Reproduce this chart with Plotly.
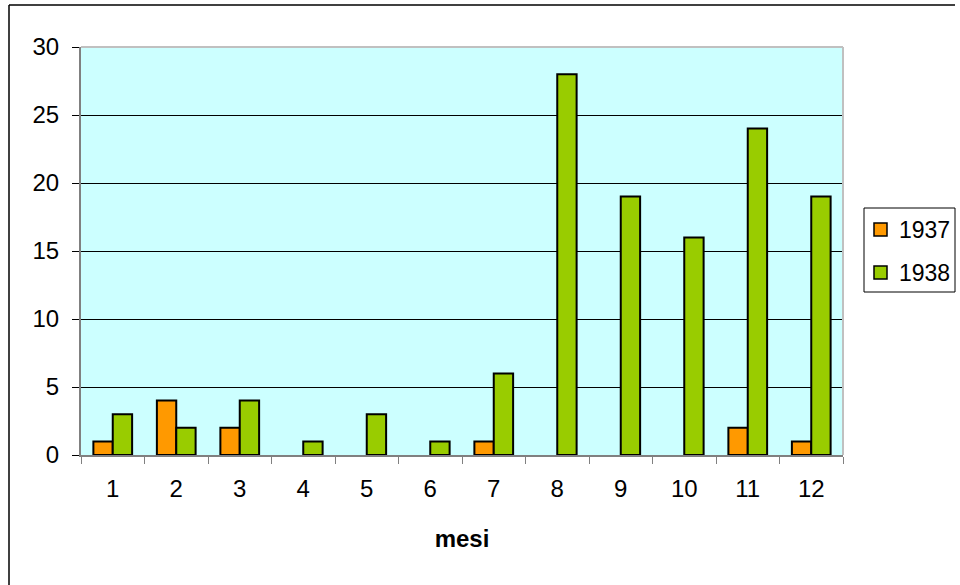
import plotly.graph_objects as go

# Monthly counts for the two years
mesi = [str(m) for m in range(1, 13)]
serie_1937 = [1, 4, 2, 0, 0, 0, 1, 0, 0, 0, 2, 1]
serie_1938 = [3, 2, 4, 1, 3, 1, 6, 28, 19, 16, 24, 19]
y_ticks = [0, 5, 10, 15, 20, 25, 30]

series = [
    ("1937", serie_1937, "#FF9900"),
    ("1938", serie_1938, "#99CC00"),
]

FONT = "Liberation Sans, Arial, sans-serif"
FS = 24

# plot area in pixels
L, R, T, B = 81, 843, 47, 455
W, H = 960, 585


def px(x):
    return (x - L) / (R - L)


def py(y):
    return (B - y) / (B - T)


def outline(values):
    # no outline on empty bars
    return [2 if v else 0 for v in values]


fig = go.Figure()
for name, vals, col in series:
    fig.add_trace(go.Bar(
        x=mesi, y=vals, name=name, showlegend=False,
        marker=dict(color=col, line=dict(color="black", width=outline(vals))),
    ))

shapes = [
    # plot area border (top / right)
    dict(type="line", xref="paper", yref="paper", x0=0, x1=1, y0=1, y1=1,
         line=dict(color="#C0C0C0", width=2), layer="above"),
    dict(type="line", xref="paper", yref="paper", x0=1, x1=1, y0=0, y1=1,
         line=dict(color="#C0C0C0", width=2), layer="above"),
    # chart frame
    dict(type="line", xref="paper", yref="paper",
         x0=px(9), x1=px(955), y0=py(5), y1=py(5),
         line=dict(color="black", width=1.5)),
    dict(type="line", xref="paper", yref="paper",
         x0=px(9), x1=px(9), y0=py(5), y1=py(585),
         line=dict(color="black", width=1.5)),
    # legend box
    dict(type="rect", xref="paper", yref="paper",
         x0=px(864), x1=px(955), y0=py(208), y1=py(292),
         line=dict(color="black", width=1), fillcolor="white"),
]
annotations = []
for i, (name, vals, col) in enumerate(series):
    yc = 229.5 + i * 43
    shapes.append(dict(
        type="rect", xref="paper", yref="paper",
        x0=px(874), x1=px(887), y0=py(yc - 6.5), y1=py(yc + 6.5),
        line=dict(color="black", width=1.5), fillcolor=col,
    ))
    annotations.append(dict(
        x=px(897), y=py(yc), xref="paper", yref="paper",
        text=name, showarrow=False, xanchor="left", yanchor="middle",
        font=dict(size=23, family=FONT, color="black"),
    ))

fig.update_layout(
    width=W, height=H,
    margin=dict(l=L, r=W - R, t=T, b=H - B, pad=0, autoexpand=False),
    paper_bgcolor="white",
    plot_bgcolor="#CCFFFF",
    barmode="group",
    bargap=0.39,
    bargroupgap=0,
    font=dict(family=FONT, size=FS, color="black"),
    xaxis=dict(
        type="category",
        tickson="boundaries",
        ticks="outside", ticklen=7, tickcolor="#808080", tickwidth=1,
        showline=True, linecolor="#808080", linewidth=2,
        showgrid=False,
        title=dict(text="<b>mesi</b>", font=dict(size=FS), standoff=29),
        tickfont=dict(size=FS),
        ticklabelstandoff=11,
    ),
    yaxis=dict(
        range=[0, 30],
        tickvals=y_ticks,
        ticks="outside", ticklen=7, tickcolor="black", tickwidth=1,
        showline=True, linecolor="#808080", linewidth=2,
        showgrid=True, gridcolor="black", gridwidth=1,
        zeroline=False,
        tickfont=dict(size=FS),
        ticklabelstandoff=8,
    ),
    shapes=shapes,
    annotations=annotations,
)

fig.write_html("out.html")
